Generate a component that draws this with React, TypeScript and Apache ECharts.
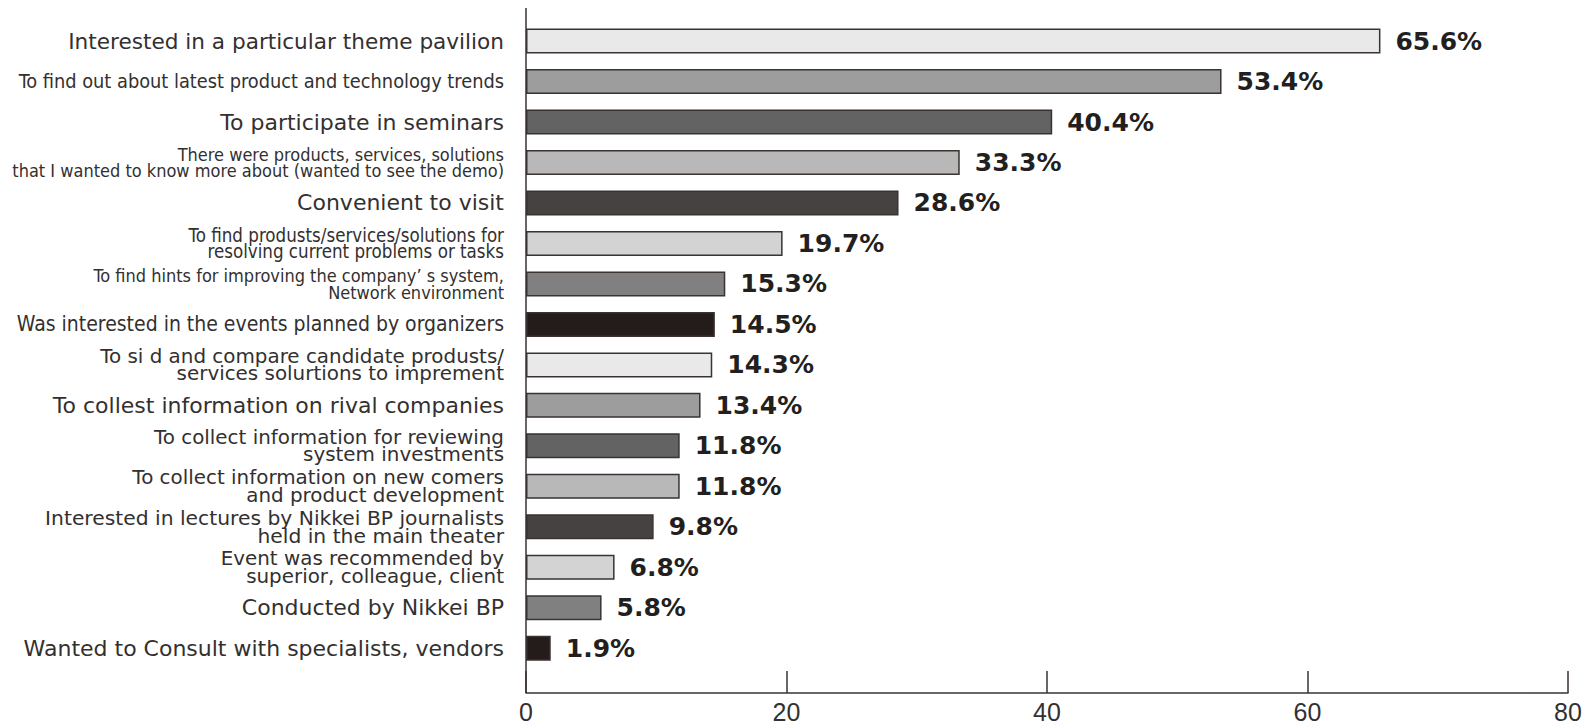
import React, { useEffect, useRef } from "react";
import * as echarts from "echarts";

const categories: string[] = [
  "Interested in a particular theme pavilion",
  "To find out about latest product and technology trends",
  "To participate in seminars",
  "There were products, services, solutions\nthat I wanted to know more about (wanted to see the demo)",
  "Convenient to visit",
  "To find produsts/services/solutions for\nresolving current problems or tasks",
  "To find hints for improving the company\u2019 s system,\nNetwork environment",
  "Was interested in the events planned by organizers",
  "To si d and compare candidate produsts/\nservices solurtions to imprement",
  "To collest information on rival companies",
  "To collect information for reviewing\nsystem investments",
  "To collect information on new comers\nand product development",
  "Interested in lectures by Nikkei BP journalists\nheld in the main theater",
  "Event was recommended by\nsuperior, colleague, client",
  "Conducted by Nikkei BP",
  "Wanted to Consult with specialists, vendors",
];

const values: number[] = [65.6, 53.4, 40.4, 33.3, 28.6, 19.7, 15.3, 14.5, 14.3, 13.4, 11.8, 11.8, 9.8, 6.8, 5.8, 1.9];

const xTicks: number[] = [0, 20, 40, 60, 80];

const barColors: string[] = [
  "#e8e9e8", "#9d9d9d", "#636363", "#b8b8b8", "#454241", "#d3d3d3", "#808080", "#231c1a",
  "#e8e9e8", "#9d9d9d", "#636363", "#b8b8b8", "#454241", "#d3d3d3", "#808080", "#231c1a",
];

// label style key per category (w = wide gothic, n = narrow gothic)
const labelStyleKeys: string[] = [
  "w21", "n20", "w22", "n18", "w22", "n18b", "n18", "n21",
  "w20", "w22", "w20", "w20", "w20b", "w20", "w22", "w22",
];

const WIDE = "'DejaVu Sans', sans-serif";
const NARROW = "'DejaVu Sans Condensed', 'DejaVu Sans', sans-serif";
const TEXT = "#333030";
const LINE = "#3a3330";

const rich: Record<string, any> = {
  w22: { fontFamily: WIDE, fontSize: 22, lineHeight: 26, color: TEXT, align: "right" },
  w21: { fontFamily: WIDE, fontSize: 21.6, lineHeight: 26, color: TEXT, align: "right" },
  w20: { fontFamily: WIDE, fontSize: 19.9, lineHeight: 17.6, color: TEXT, align: "right" },
  w20b: { fontFamily: WIDE, fontSize: 20.3, lineHeight: 17.6, color: TEXT, align: "right" },
  n21: { fontFamily: NARROW, fontSize: 21, lineHeight: 24, color: TEXT, align: "right" },
  n20: { fontFamily: NARROW, fontSize: 19.8, lineHeight: 24, color: TEXT, align: "right" },
  n18: { fontFamily: NARROW, fontSize: 18, lineHeight: 16.5, color: TEXT, align: "right" },
  n18b: { fontFamily: NARROW, fontSize: 18.6, lineHeight: 16.5, color: TEXT, align: "right" },
};

export default function App() {
  const ref = useRef<HTMLDivElement>(null);
  useEffect(() => {
    document.body.style.margin = "0";
    const chart = echarts.init(ref.current!, null, { renderer: "svg" });
    const gridLeft = 526;
    const gridTop = 20.8;
    const gridBottom = 59.5;
    const axisOffset = 24.5;
    chart.setOption({
      animation: false,
      backgroundColor: "#ffffff",
      grid: { left: gridLeft, right: 28, top: gridTop, bottom: gridBottom, containLabel: false },
      xAxis: {
        type: "value",
        min: xTicks[0],
        max: xTicks[xTicks.length - 1],
        interval: xTicks[1] - xTicks[0],
        offset: axisOffset,
        axisLine: { show: true, lineStyle: { color: LINE, width: 1.5 } },
        axisTick: { show: true, inside: true, length: 22, lineStyle: { color: LINE, width: 1.5 } },
        axisLabel: { fontSize: 25, color: TEXT, fontFamily: "'Liberation Sans', Arial, sans-serif", margin: 6 },
        splitLine: { show: false },
      },
      yAxis: {
        type: "category",
        inverse: true,
        data: categories,
        axisLine: { show: false },
        axisTick: { show: false },
        axisLabel: {
          margin: 22,
          formatter: (value: string, index: number) => {
            const key = labelStyleKeys[index] || "w22";
            return value
              .split("\n")
              .map((l) => `{${key}|${l}}`)
              .join("\n");
          },
          rich,
        },
      },
      graphic: [
        {
          type: "line",
          shape: { x1: gridLeft, y1: 8, x2: gridLeft, y2: 728 - gridBottom + axisOffset },
          style: { stroke: LINE, lineWidth: 1.5 },
          z: 10,
        },
      ],
      series: [
        {
          type: "bar",
          barWidth: 25,
          data: values.map((v, i) => ({
            value: v,
            itemStyle: { color: barColors[i], borderColor: LINE, borderWidth: 1.5 },
          })),
          label: {
            show: true,
            position: "right",
            distance: 15,
            formatter: (p: any) => `${p.value}%`,
            fontFamily: "'DejaVu Sans', sans-serif",
            fontWeight: "bold",
            fontSize: 25,
            color: "#231f1e",
          },
        },
      ],
    });
    return () => chart.dispose();
  }, []);
  return <div ref={ref} style={{ width: 1596, height: 728 }} />;
}
